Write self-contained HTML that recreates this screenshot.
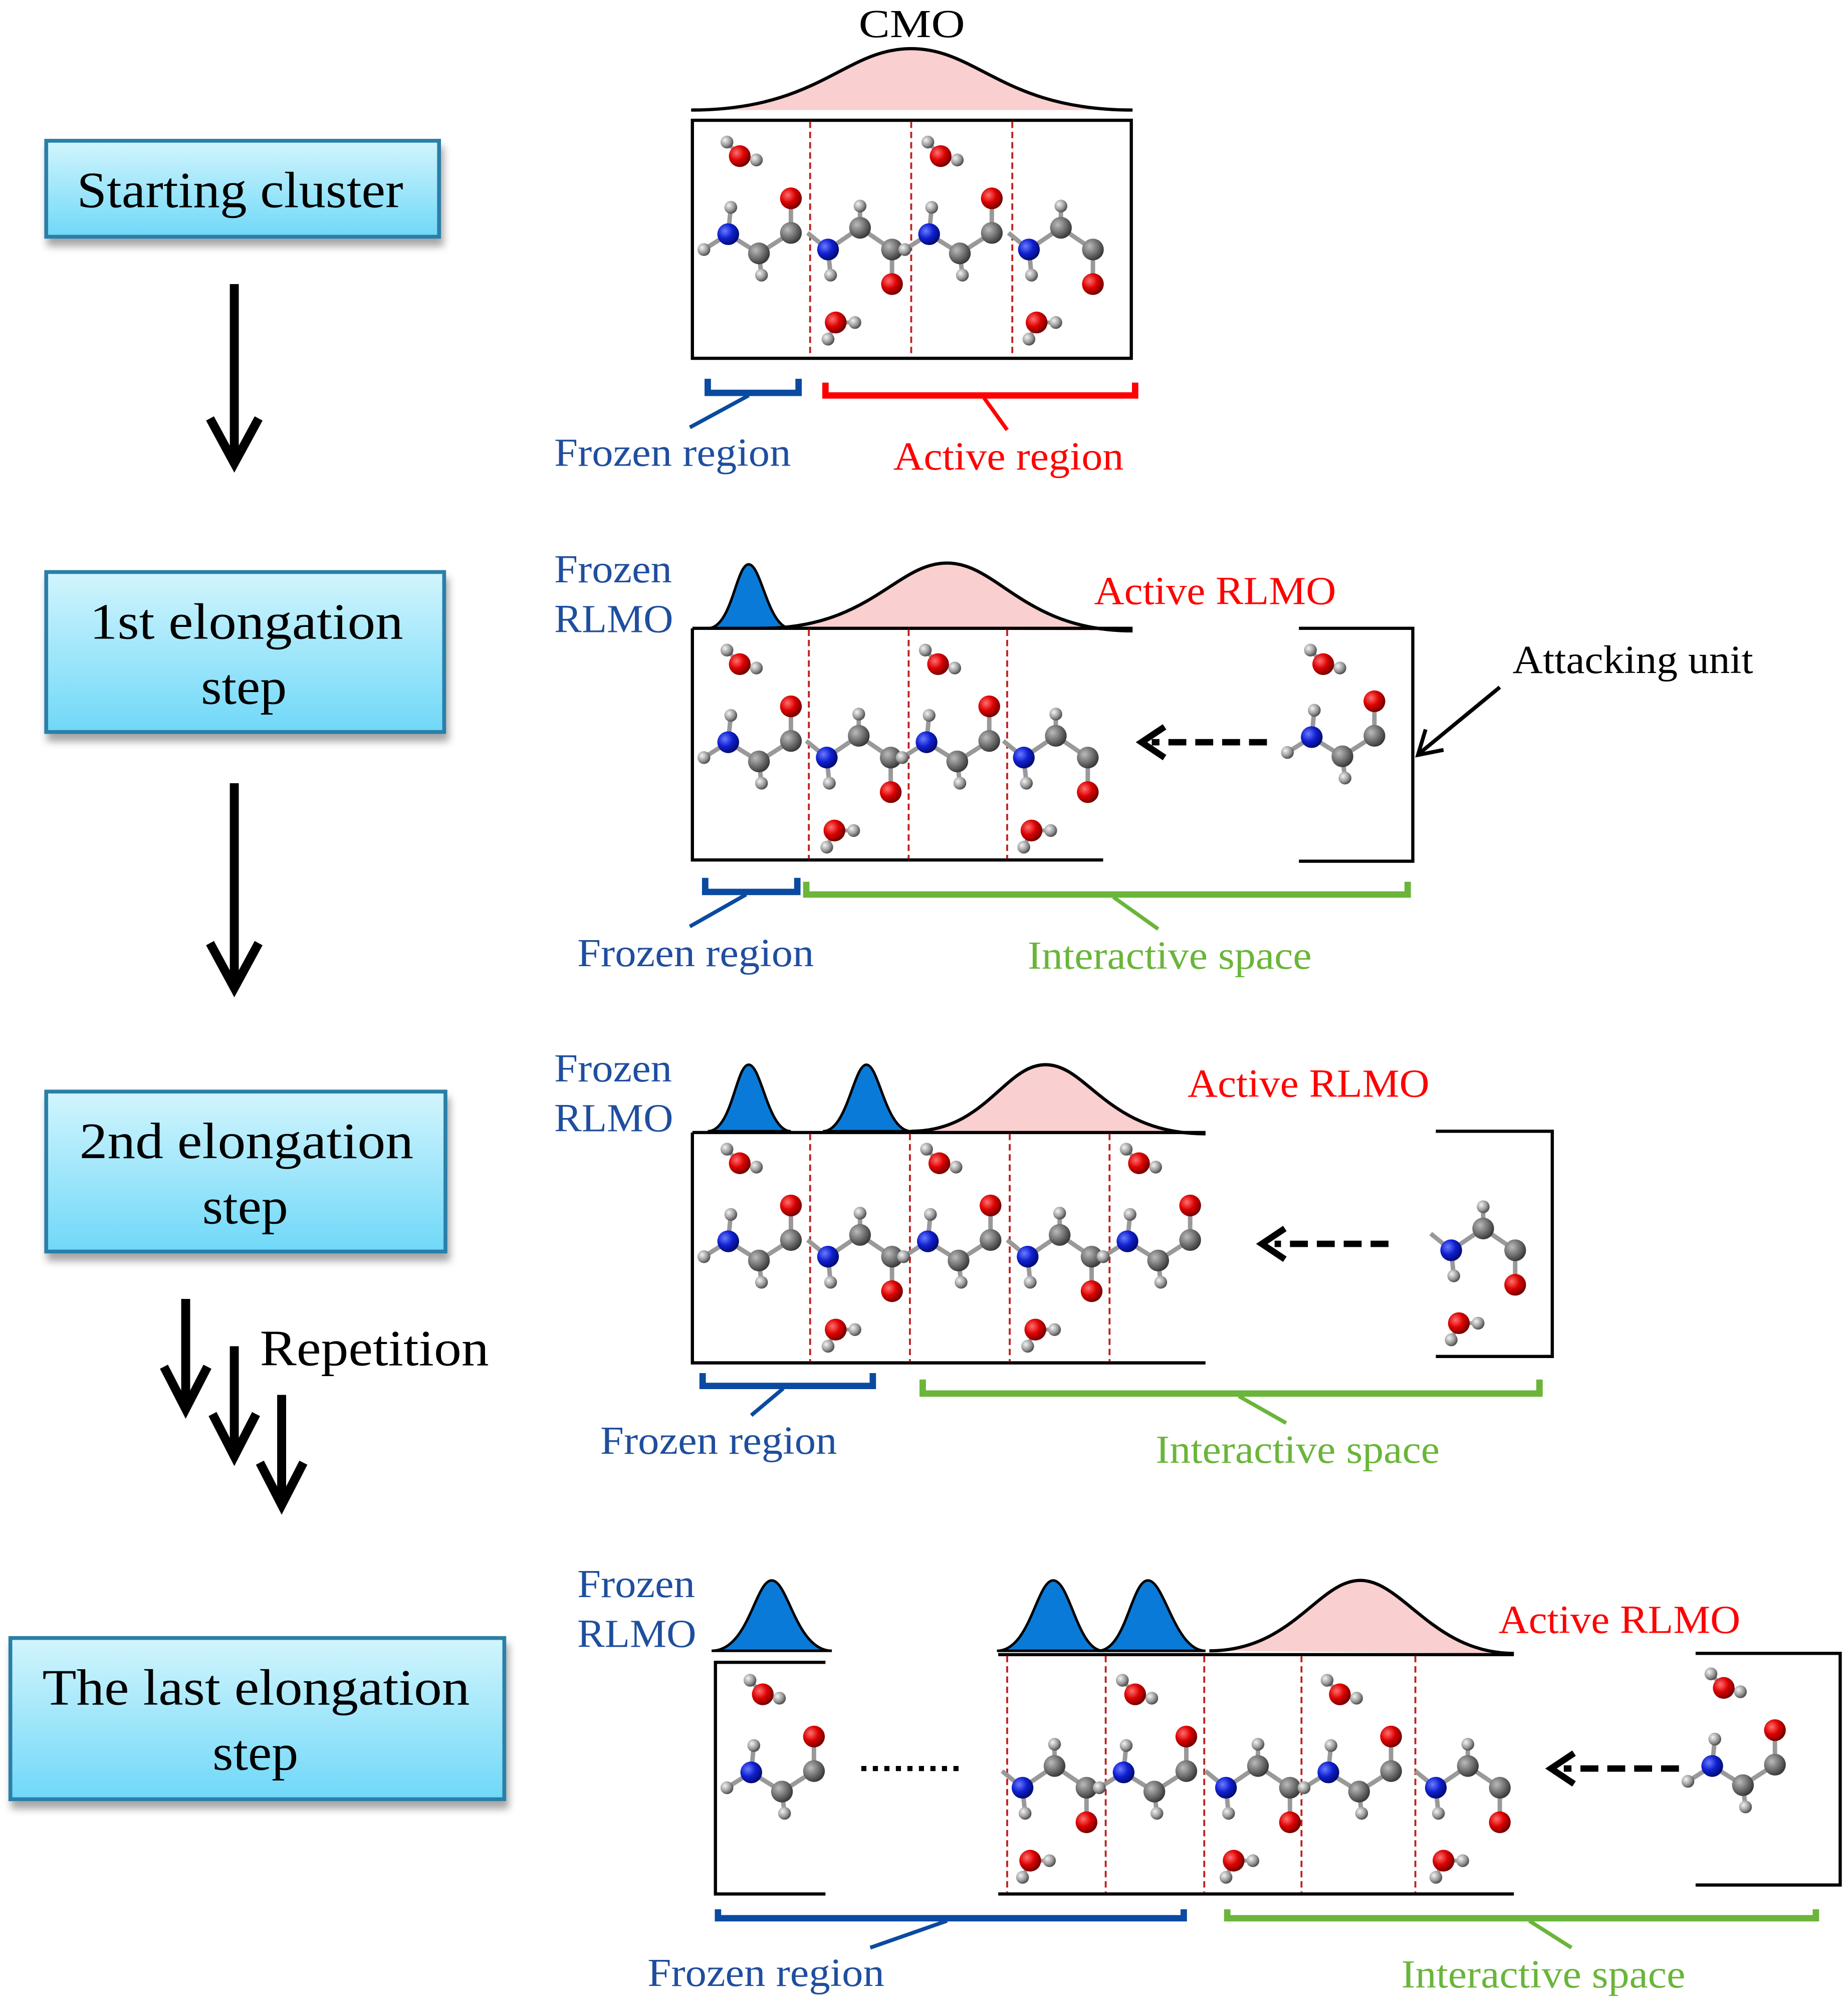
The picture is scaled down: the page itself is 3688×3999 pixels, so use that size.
<!DOCTYPE html>
<html><head><meta charset="utf-8"><style>
html,body{margin:0;padding:0;background:#fff;}
svg{display:block;}
text{font-family:"Liberation Serif",serif;}
</style></head><body>
<svg width="3688" height="3999" viewBox="0 0 1444 1566" xmlns="http://www.w3.org/2000/svg">
<defs>
<linearGradient id="bx" x1="0" y1="0" x2="0" y2="1"><stop offset="0" stop-color="#d2f5fd"/><stop offset="1" stop-color="#6fd8f8"/></linearGradient>
<radialGradient id="gO" cx="0.35" cy="0.35" r="0.7"><stop offset="0" stop-color="#ff7070"/><stop offset="0.5" stop-color="#dd0000"/><stop offset="1" stop-color="#6a0000"/></radialGradient>
<radialGradient id="gN" cx="0.35" cy="0.35" r="0.7"><stop offset="0" stop-color="#6a7cff"/><stop offset="0.5" stop-color="#1020d0"/><stop offset="1" stop-color="#00086a"/></radialGradient>
<radialGradient id="gC" cx="0.35" cy="0.35" r="0.7"><stop offset="0" stop-color="#bbbbbb"/><stop offset="0.5" stop-color="#777"/><stop offset="1" stop-color="#333"/></radialGradient>
<radialGradient id="gH" cx="0.35" cy="0.35" r="0.7"><stop offset="0" stop-color="#f4f4f4"/><stop offset="0.6" stop-color="#999"/><stop offset="1" stop-color="#444"/></radialGradient>
<filter id="sh" x="-10%" y="-10%" width="130%" height="140%"><feDropShadow dx="2" dy="6" stdDeviation="3" flood-color="#000" flood-opacity="0.35"/></filter>
<g id="wt">
 <line x1="37" y1="-61" x2="27" y2="-72" stroke="#999" stroke-width="3"/><line x1="37" y1="-61" x2="50" y2="-58" stroke="#999" stroke-width="3"/>
 <circle cx="27" cy="-72" r="5" fill="url(#gH)"/><circle cx="50" cy="-58" r="5" fill="url(#gH)"/><circle cx="37" cy="-61" r="8.5" fill="url(#gO)"/>
</g>
<g id="wb">
 <line x1="20" y1="69" x2="14" y2="82" stroke="#999" stroke-width="3"/><line x1="20" y1="69" x2="35" y2="69" stroke="#999" stroke-width="3"/>
 <circle cx="14" cy="82" r="5" fill="url(#gH)"/><circle cx="35" cy="69" r="5" fill="url(#gH)"/><circle cx="20" cy="69" r="8.5" fill="url(#gO)"/>
</g>
<g id="ua">
 <g stroke="#999" stroke-width="3.5">
 <line x1="28" y1="0" x2="30" y2="-21"/><line x1="28" y1="0" x2="9" y2="12"/><line x1="28" y1="0" x2="52" y2="15"/><line x1="52" y1="15" x2="54" y2="32"/><line x1="52" y1="15" x2="77" y2="-1"/><line x1="77" y1="-1" x2="77" y2="-28"/>
 </g>
 <circle cx="30" cy="-21" r="5" fill="url(#gH)"/><circle cx="9" cy="12" r="5" fill="url(#gH)"/><circle cx="54" cy="32" r="5" fill="url(#gH)"/>
 <circle cx="28" cy="0" r="8.5" fill="url(#gN)"/><circle cx="52" cy="15" r="8.5" fill="url(#gC)"/><circle cx="77" cy="-1" r="8.5" fill="url(#gC)"/><circle cx="77" cy="-28" r="8.5" fill="url(#gO)"/>
</g>
<g id="ub">
 <g stroke="#999" stroke-width="3.5">
 <line x1="-2" y1="-1" x2="14" y2="12"/><line x1="14" y1="12" x2="16" y2="32"/><line x1="14" y1="12" x2="39" y2="-5"/><line x1="39" y1="-5" x2="39" y2="-22"/><line x1="39" y1="-5" x2="64" y2="12"/><line x1="64" y1="12" x2="64" y2="39"/>
 </g>
 <circle cx="16" cy="32" r="5" fill="url(#gH)"/><circle cx="39" cy="-22" r="5" fill="url(#gH)"/>
 <circle cx="14" cy="12" r="8.5" fill="url(#gN)"/><circle cx="39" cy="-5" r="8.5" fill="url(#gC)"/><circle cx="64" cy="12" r="8.5" fill="url(#gC)"/><circle cx="64" cy="39" r="8.5" fill="url(#gO)"/>
</g>
</defs>

<g filter="url(#sh)" stroke="#2a7fa8" stroke-width="3" fill="url(#bx)">
<rect x="36" y="110" width="307" height="75"/>
<rect x="36" y="447" width="311" height="125"/>
<rect x="36" y="853" width="312" height="125"/>
<rect x="8" y="1280" width="386" height="126"/>
</g>
<g font-size="40" fill="#000" lengthAdjust="spacingAndGlyphs">
<text x="60" y="162" textLength="255" lengthAdjust="spacingAndGlyphs">Starting cluster</text>
<text x="70" y="499" textLength="245" lengthAdjust="spacingAndGlyphs">1st  elongation</text><text x="157" y="550" textLength="67" lengthAdjust="spacingAndGlyphs">step</text>
<text x="62" y="905" textLength="261" lengthAdjust="spacingAndGlyphs">2nd  elongation</text><text x="158" y="956" textLength="67" lengthAdjust="spacingAndGlyphs">step</text>
<text x="33" y="1332" textLength="334" lengthAdjust="spacingAndGlyphs">The last  elongation</text><text x="166" y="1383" textLength="67" lengthAdjust="spacingAndGlyphs">step</text>
</g>
<g stroke="#000" stroke-width="7" fill="none" stroke-linecap="butt">
<line x1="183" y1="222" x2="183" y2="360"/><polyline points="164,327 183,362 202,327"/>
<line x1="183" y1="612" x2="183" y2="770"/><polyline points="164,737 183,772 202,737"/>
<line x1="145" y1="1015" x2="145" y2="1100"/><polyline points="128,1068 145,1101 162,1068"/>
<line x1="183" y1="1052" x2="183" y2="1137"/><polyline points="166,1105 183,1138 200,1105"/>
<line x1="220" y1="1090" x2="220" y2="1175"/><polyline points="203,1143 220,1176 237,1143"/>
</g>
<text x="203" y="1067" font-size="40" textLength="179" lengthAdjust="spacingAndGlyphs">Repetition</text>

<!-- PANEL 1 -->
<path d="M540,86 C640,86 660,38 712,38 C764,38 784,86 885,86" fill="#f9cfcf" stroke="#000" stroke-width="2.5"/>
<text x="671" y="29" font-size="31" textLength="83" lengthAdjust="spacingAndGlyphs">CMO</text>
<rect x="541" y="94" width="343" height="186" fill="none" stroke="#000" stroke-width="2.5"/>
<g stroke="#c02020" stroke-width="1.5" stroke-dasharray="5,3"><line x1="633" y1="95" x2="633" y2="279"/><line x1="712" y1="95" x2="712" y2="279"/><line x1="791" y1="95" x2="791" y2="279"/></g>
<use href="#ua" x="541" y="183"/><use href="#wt" x="541" y="183"/>
<use href="#ub" x="633" y="183"/><use href="#wb" x="633" y="183"/>
<use href="#ua" x="698" y="183"/><use href="#wt" x="698" y="183"/>
<use href="#ub" x="790" y="183"/><use href="#wb" x="790" y="183"/>
<path d="M553,296 V307 H624 V296" fill="none" stroke="#0a4aa0" stroke-width="5"/>
<line x1="585" y1="309" x2="539" y2="334" stroke="#0a4aa0" stroke-width="3"/>
<path d="M645,299 V309 H887 V299" fill="none" stroke="#ff0000" stroke-width="5"/>
<line x1="769" y1="311" x2="787" y2="336" stroke="#ff0000" stroke-width="3"/>
<text x="433" y="364" font-size="31" fill="#1f4e9e" textLength="185" lengthAdjust="spacingAndGlyphs">Frozen region</text>
<text x="698" y="367" font-size="31" fill="#ff0000" textLength="180" lengthAdjust="spacingAndGlyphs">Active region</text>

<!-- PANEL 2 -->
<path d="M553,491 C572,491 575,441 585,441 C595,441 600,491 618,491 Z" fill="#0a7ad8" stroke="#000" stroke-width="2"/>
<path d="M595,491 C680,491 700,440 740,440 C780,440 800,493 885,493" fill="#f9cfcf" stroke="#000" stroke-width="2.5"/>
<text x="433" y="455" font-size="31" fill="#1f4e9e" textLength="92" lengthAdjust="spacingAndGlyphs">Frozen</text><text x="433" y="494" font-size="31" fill="#1f4e9e" textLength="93" lengthAdjust="spacingAndGlyphs">RLMO</text>
<text x="855" y="472" font-size="31" fill="#ff0000" textLength="189" lengthAdjust="spacingAndGlyphs">Active RLMO</text>
<path d="M541,491 H885 M541,491 V672 H862" fill="none" stroke="#000" stroke-width="2.5"/>
<g stroke="#c02020" stroke-width="1.5" stroke-dasharray="5,3"><line x1="632" y1="492" x2="632" y2="671"/><line x1="710" y1="492" x2="710" y2="671"/><line x1="787" y1="492" x2="787" y2="671"/></g>
<use href="#ua" x="541" y="580"/><use href="#wt" x="541" y="580"/>
<use href="#ub" x="632" y="580"/><use href="#wb" x="632" y="580"/>
<use href="#ua" x="696" y="580"/><use href="#wt" x="696" y="580"/>
<use href="#ub" x="786" y="580"/><use href="#wb" x="786" y="580"/>
<path d="M1015,491 H1104 V673 H1015" fill="none" stroke="#000" stroke-width="2.5"/>
<use href="#ua" x="997" y="576"/><use href="#wt" x="997" y="580"/>
<line x1="990" y1="580" x2="900" y2="580" stroke="#000" stroke-width="5" stroke-dasharray="14,7"/>
<polyline points="910,568 892,580 910,592" fill="none" stroke="#000" stroke-width="5"/>
<text x="1182" y="526" font-size="31" textLength="188" lengthAdjust="spacingAndGlyphs">Attacking unit</text>
<line x1="1172" y1="537" x2="1110" y2="588" stroke="#000" stroke-width="3"/>
<polyline points="1114,570 1108,590 1128,586" fill="none" stroke="#000" stroke-width="3"/>
<path d="M551,686 V697 H623 V686" fill="none" stroke="#0a4aa0" stroke-width="5"/>
<line x1="583" y1="699" x2="539" y2="724" stroke="#0a4aa0" stroke-width="3"/>
<path d="M630,689 V699 H1100 V689" fill="none" stroke="#6ab53a" stroke-width="5"/>
<line x1="870" y1="701" x2="905" y2="726" stroke="#6ab53a" stroke-width="3"/>
<text x="451" y="755" font-size="31" fill="#1f4e9e" textLength="185" lengthAdjust="spacingAndGlyphs">Frozen region</text>
<text x="803" y="757" font-size="31" fill="#6ab53a" textLength="222" lengthAdjust="spacingAndGlyphs">Interactive space</text>

<!-- PANEL 3 -->
<path d="M553,884 C572,884 575,832 585,832 C595,832 600,884 618,884 Z" fill="#0a7ad8" stroke="#000" stroke-width="2"/>
<path d="M643,884 C662,884 667,832 677,832 C687,832 692,884 712,884 Z" fill="#0a7ad8" stroke="#000" stroke-width="2"/>
<path d="M712,884 C770,884 785,832 817,832 C850,832 865,886 942,886" fill="#f9cfcf" stroke="#000" stroke-width="2.5"/>
<text x="433" y="845" font-size="31" fill="#1f4e9e" textLength="92" lengthAdjust="spacingAndGlyphs">Frozen</text><text x="433" y="884" font-size="31" fill="#1f4e9e" textLength="93" lengthAdjust="spacingAndGlyphs">RLMO</text>
<text x="928" y="857" font-size="31" fill="#ff0000" textLength="189" lengthAdjust="spacingAndGlyphs">Active RLMO</text>
<path d="M541,885 H942 M541,885 V1065 H942" fill="none" stroke="#000" stroke-width="2.5"/>
<g stroke="#c02020" stroke-width="1.5" stroke-dasharray="5,3"><line x1="633" y1="886" x2="633" y2="1064"/><line x1="711" y1="886" x2="711" y2="1064"/><line x1="789" y1="886" x2="789" y2="1064"/><line x1="867" y1="886" x2="867" y2="1064"/></g>
<use href="#ua" x="541" y="970"/><use href="#wt" x="541" y="970"/>
<use href="#ub" x="633" y="970"/><use href="#wb" x="633" y="970"/>
<use href="#ua" x="697" y="970"/><use href="#wt" x="697" y="970"/>
<use href="#ub" x="789" y="970"/><use href="#wb" x="789" y="970"/>
<use href="#ua" x="853" y="970"/><use href="#wt" x="853" y="970"/>
<path d="M1122,884 H1213 V1060 H1122" fill="none" stroke="#000" stroke-width="2.5"/>
<use href="#ub" x="1120" y="965"/><use href="#wb" x="1120" y="965"/>
<line x1="1085" y1="972" x2="996" y2="972" stroke="#000" stroke-width="5" stroke-dasharray="14,7"/>
<polyline points="1004,960 986,972 1004,984" fill="none" stroke="#000" stroke-width="5"/>
<path d="M549,1073 V1083 H682 V1073" fill="none" stroke="#0a4aa0" stroke-width="5"/>
<line x1="612" y1="1085" x2="587" y2="1106" stroke="#0a4aa0" stroke-width="3"/>
<path d="M721,1078 V1089 H1203 V1078" fill="none" stroke="#6ab53a" stroke-width="5"/>
<line x1="968" y1="1091" x2="1005" y2="1112" stroke="#6ab53a" stroke-width="3"/>
<text x="469" y="1136" font-size="31" fill="#1f4e9e" textLength="185" lengthAdjust="spacingAndGlyphs">Frozen region</text>
<text x="903" y="1143" font-size="31" fill="#6ab53a" textLength="222" lengthAdjust="spacingAndGlyphs">Interactive space</text>

<!-- PANEL 4 -->
<path d="M556,1290 C585,1290 590,1235 603,1235 C616,1235 622,1290 650,1290 Z" fill="#0a7ad8" stroke="#000" stroke-width="2"/>
<path d="M779,1290 C805,1290 810,1235 823,1235 C836,1235 842,1290 862,1290 Z" fill="#0a7ad8" stroke="#000" stroke-width="2"/>
<path d="M858,1290 C880,1290 884,1235 897,1235 C910,1235 918,1290 942,1290 Z" fill="#0a7ad8" stroke="#000" stroke-width="2"/>
<path d="M945,1290 C1010,1290 1030,1235 1063,1235 C1096,1235 1120,1292 1183,1292" fill="#f9cfcf" stroke="#000" stroke-width="2.5"/>
<text x="451" y="1248" font-size="31" fill="#1f4e9e" textLength="92" lengthAdjust="spacingAndGlyphs">Frozen</text><text x="451" y="1287" font-size="31" fill="#1f4e9e" textLength="93" lengthAdjust="spacingAndGlyphs">RLMO</text>
<text x="1171" y="1276" font-size="31" fill="#ff0000" textLength="189" lengthAdjust="spacingAndGlyphs">Active RLMO</text>
<path d="M645,1299 H559 V1480 H645" fill="none" stroke="#000" stroke-width="2.5"/>
<use href="#ua" x="559" y="1385"/><use href="#wt" x="559" y="1385"/>
<line x1="673" y1="1382" x2="752" y2="1382" stroke="#000" stroke-width="4" stroke-dasharray="4,5"/>
<path d="M780,1293 H1183 M780,1480 H1183" fill="none" stroke="#000" stroke-width="2.5"/>
<g stroke="#c02020" stroke-width="1.5" stroke-dasharray="5,3"><line x1="787" y1="1294" x2="787" y2="1479"/><line x1="864" y1="1294" x2="864" y2="1479"/><line x1="941" y1="1294" x2="941" y2="1479"/><line x1="1017" y1="1294" x2="1017" y2="1479"/><line x1="1106" y1="1294" x2="1106" y2="1479"/></g>
<use href="#ub" x="785" y="1385"/><use href="#wb" x="785" y="1385"/>
<use href="#ua" x="850" y="1385"/><use href="#wt" x="850" y="1385"/>
<use href="#ub" x="944" y="1385"/><use href="#wb" x="944" y="1385"/>
<use href="#ua" x="1010" y="1385"/><use href="#wt" x="1010" y="1385"/>
<use href="#ub" x="1108" y="1385"/><use href="#wb" x="1108" y="1385"/>
<path d="M1325,1292 H1438 V1473 H1325" fill="none" stroke="#000" stroke-width="2.5"/>
<use href="#ua" x="1310" y="1380"/><use href="#wt" x="1310" y="1380"/>
<line x1="1312" y1="1382" x2="1222" y2="1382" stroke="#000" stroke-width="5" stroke-dasharray="14,7"/>
<polyline points="1230,1370 1212,1382 1230,1394" fill="none" stroke="#000" stroke-width="5"/>
<path d="M561,1492 V1499 H925 V1492" fill="none" stroke="#0a4aa0" stroke-width="5"/>
<line x1="740" y1="1501" x2="680" y2="1522" stroke="#0a4aa0" stroke-width="3"/>
<path d="M959,1492 V1499 H1419 V1492" fill="none" stroke="#6ab53a" stroke-width="5"/>
<line x1="1195" y1="1501" x2="1228" y2="1522" stroke="#6ab53a" stroke-width="3"/>
<text x="506" y="1552" font-size="31" fill="#1f4e9e" textLength="185" lengthAdjust="spacingAndGlyphs">Frozen region</text>
<text x="1095" y="1553" font-size="31" fill="#6ab53a" textLength="222" lengthAdjust="spacingAndGlyphs">Interactive space</text>
</svg>
</body></html>
